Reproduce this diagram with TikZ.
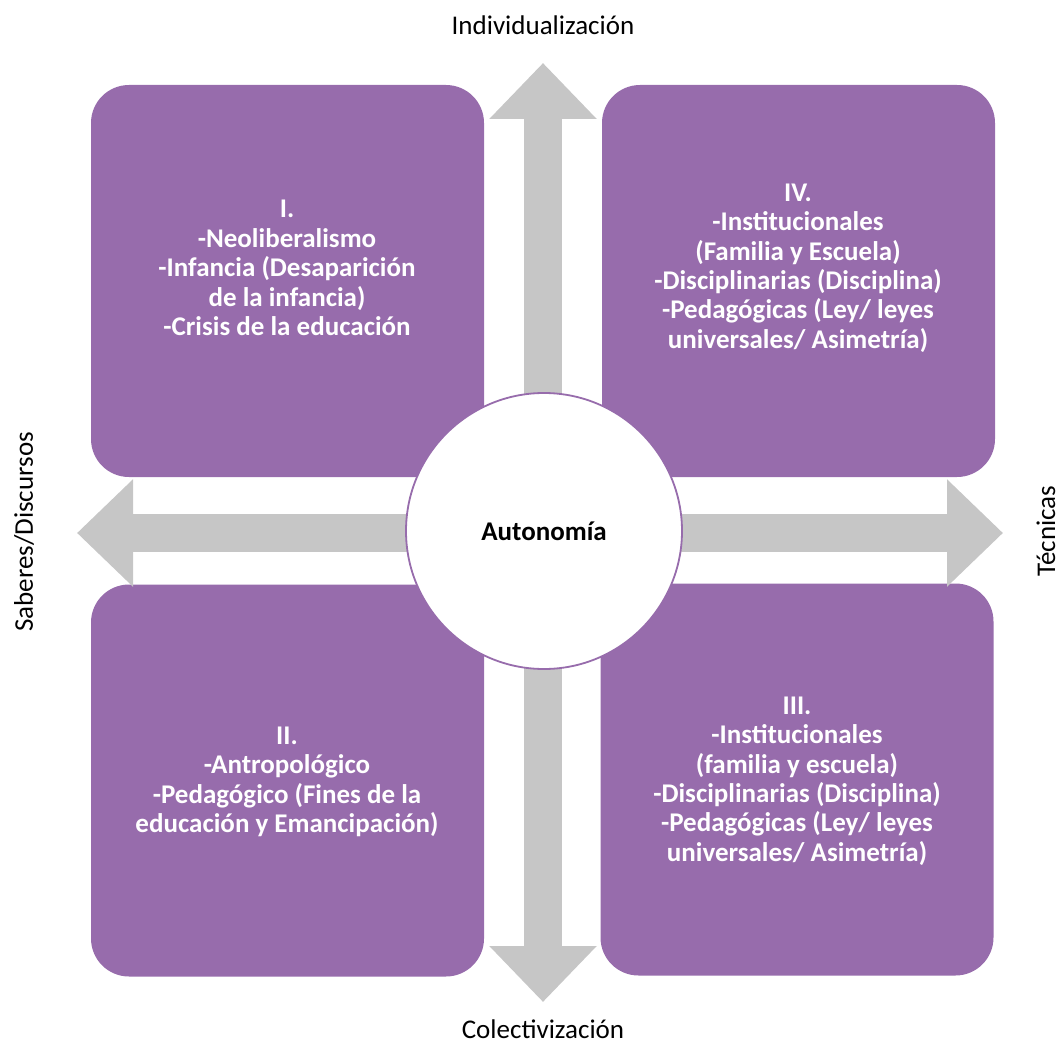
\documentclass[tikz,border=0pt]{standalone}
\usepackage{fontspec}
\setmainfont{Carlito}
\usetikzlibrary{arrows.meta, positioning}

\definecolor{quadpurple}{RGB}{151,108,172}
\definecolor{axisgray}{RGB}{198,198,198}

\begin{document}
\begin{tikzpicture}[x=1pt, y=-1pt,
  quad/.style={fill=quadpurple, rounded corners=38pt, minimum width=393pt, minimum height=392pt, inner sep=0pt},
  quadtext/.style={text=white, font=\fontsize{27}{29.4}\selectfont\bfseries, align=center},
  axis/.style={draw=axisgray, line width=38pt, {Triangle[width=104pt,length=56pt]}-{Triangle[width=104pt,length=56pt]}},
  pole/.style={font=\fontsize{27}{30}\selectfont, inner sep=0pt}]
\useasboundingbox (0,0) rectangle (1063,1046);

% quadrants
\node[quad] (qI) at (287.5,281) {};
\node[quad] (qIV) at (798.5,281) {};
\node[quad] (qII) at (287.5,780.5) {};
\node[quad] (qIII) at (797,779.5) {};

% axes
\coordinate (top) at (543,63);
\coordinate (bottom) at (543,1002);
\coordinate (left) at (77,533);
\coordinate (right) at (1003,533);
\draw[axis] (bottom) -- (top);
\draw[axis] (left) -- (right);

\node[draw=quadpurple, line width=1.8pt, fill=white, circle, minimum size=276pt,
      font=\fontsize{27}{30}\selectfont\bfseries] (auto) at (544,531) {Autonomía};

% quadrant texts
\node[quadtext] (tI) at (287,268) {I.\\-Neoliberalismo\\-Infancia (Desaparición\\de la infancia)\\-Crisis de la educación};
\node[quadtext] (tIV) at (798,268) {IV.\\-Institucionales\\(Familia y Escuela)\\-Disciplinarias (Disciplina)\\-Pedagógicas (Ley/ leyes\\universales/ Asimetría)};
\node[quadtext] (tII) at (287,782) {II.\\-Antropológico\\-Pedagógico (Fines de la\\educación y Emancipación)};
\node[quadtext] (tIII) at (797,781) {III.\\-Institucionales\\(familia y escuela)\\-Disciplinarias (Disciplina)\\-Pedagógicas (Ley/ leyes\\universales/ Asimetría)};

% pole labels
\node[pole] (indiv) at (543,25) {Individualización};
\node[pole] (colec) at (543,1029) {Colectivización};
\node[pole, rotate=90] (saberes) at (24,532) {Saberes/Discursos};
\node[pole, rotate=90] (tecnicas) at (1046,531) {Técnicas};
\end{tikzpicture}
\end{document}
